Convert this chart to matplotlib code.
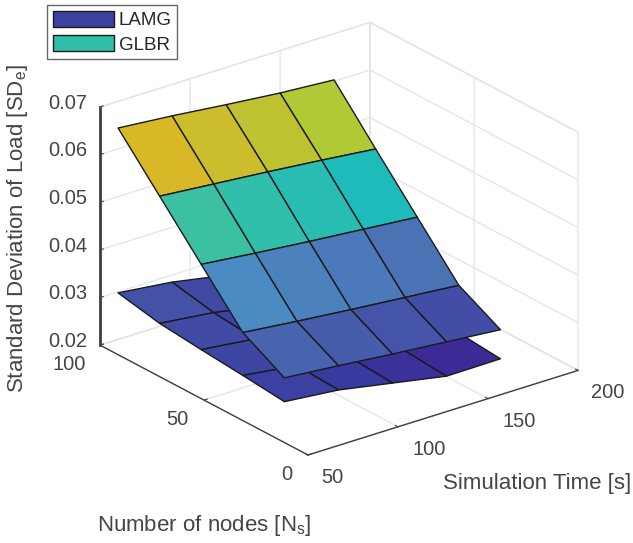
import numpy as np
import matplotlib
matplotlib.use("Agg")
import matplotlib.pyplot as plt
from matplotlib.colors import LinearSegmentedColormap, Normalize
from matplotlib.patches import Patch
from matplotlib.transforms import Affine2D
from mpl_toolkits.mplot3d import proj3d

plt.rcParams['font.family'] = ['Liberation Sans', 'DejaVu Sans']
plt.rcParams['mathtext.default'] = 'regular'

sim_time = [60, 90, 120, 150, 180]
nodes = [20, 40, 60, 80, 100]

lamg = [
    [.0254, .0243, .0222, .0201, .0202],
    [.0263, .0248, .0229, .0208, .0210],
    [.0271, .0258, .0239, .0218, .0219],
    [.0280, .0267, .0247, .0226, .0227],
    [.0298, .0285, .0264, .0243, .0244],
]
glbr = [
    [.0304, .0294, .0283, .0273, .0263],
    [.0353, .0341, .0330, .0320, .0310],
    [.0450, .0438, .0427, .0417, .0407],
    [.0547, .0537, .0527, .0516, .0504],
    [.0644, .0634, .0622, .0611, .0603],
]
x_ticks = [50, 100, 150, 200]
y_ticks = [0, 50, 100]
z_ticks = [.02, .03, .04, .05, .06, .07]
z_labels = ['0.02', '0.03', '0.04', '0.05', '0.06', '0.07']
series_names = ['LAMG', 'GLBR']

W, H = 633, 543
anchors = [(.0200, (62, 42, 150)), (.0243, (55, 58, 158)), (.0270, (65, 75, 165)),
           (.0304, (72, 100, 175)), (.0317, (75, 112, 180)), (.0353, (75, 139, 195)),
           (.0414, (28, 186, 190)), (.0450, (60, 192, 160)), (.0513, (172, 202, 54)),
           (.0547, (217, 184, 40)), (.0700, (217, 184, 40))]
lo, hi = anchors[0][0], anchors[-1][0]
cmap = LinearSegmentedColormap.from_list(
    'p', [((v - lo) / (hi - lo), tuple(c / 255 for c in col)) for v, col in anchors])
norm = Normalize(lo, hi)

fig = plt.figure(figsize=(W / 100, H / 100), dpi=100)
ax = fig.add_axes([0, 0, 1, 1], projection='3d', proj_type='ortho', computed_zorder=False)
ax.view_init(elev=24, azim=-127.6)
ax.set_box_aspect((1, 1, 0.765))
ax.set_xlim(50, 200)
ax.set_ylim(0, 100)
ax.set_zlim(.02, .07)

X, Y = np.meshgrid(sim_time, nodes)
for i, data in enumerate((lamg, glbr)):
    Z = np.array(data)
    ax.plot_surface(X, Y, Z, rstride=1, cstride=1, facecolors=cmap(norm(Z)), shade=False,
                    edgecolor=(.1, .1, .1), linewidth=1.0, antialiased=True, zorder=i + 1)

ax.set_xticks(x_ticks)
ax.set_yticks(y_ticks)
ax.set_zticks(z_ticks)
ax.set_zticklabels(z_labels)
tc = (.27, .27, .27)
ax.tick_params(axis='both', labelsize=14.5, labelcolor=tc, color=tc)
ax.tick_params(axis='x', pad=6)
ax.tick_params(axis='y', pad=6)
ax.tick_params(axis='z', pad=6)
for a in (ax.xaxis, ax.yaxis, ax.zaxis):
    a.set_pane_color((1, 1, 1, 1))
    a.pane.set_edgecolor((.88, .88, .88))
    a._axinfo['grid'].update(color=(.9, .9, .9), linewidth=1.0)
    a._axinfo['tick'].update(inward_factor=0.0, outward_factor=0.15)
    a.line.set_color((.25, .25, .25))
    a.line.set_linewidth(1.0)
ax.zaxis.line.set_linewidth(2.0)


def shift_labels(axis, dxs, dy):
    for tick, dx in zip(axis.get_major_ticks(), dxs):
        tr = Affine2D().translate(dx, dy)
        tick.label1.get_transform = lambda tr=tr: ax.transData + tr


shift_labels(ax.xaxis, [10, 17, 17, 15], 11.5)
shift_labels(ax.yaxis, [-2, -8, -12], 13)
shift_labels(ax.zaxis, [1] * 6, 11.5)


# fit the square axes so that the box corners land where they should
def project(px, py, pz):
    xs, ys, _ = proj3d.proj_transform(px, py, pz, ax.get_proj())
    return ax.transData.transform(np.column_stack([np.atleast_1d(xs), np.atleast_1d(ys)]))


for _ in range(3):
    fig.canvas.draw()
    a_ = project(50, 100, .02)[0]
    b_ = project(200, 0, .02)[0]
    s = (578 - 100) / (b_[0] - a_[0])
    pos = ax.get_position()
    side = pos.width * W * s
    ax.set_position([0, 0, side / W, side / H])
    fig.canvas.draw()
    c_ = project(50, 0, .02)[0]
    pos = ax.get_position()
    ax.set_position([pos.x0 + (308 - c_[0]) / W, pos.y0 + ((H - 455) - c_[1]) / H, pos.width, pos.height])

fig.text(537 / W, 1 - 484 / H, 'Simulation Time [s]', fontsize=16, color=tc, ha='center', va='center')
fig.text(204 / W, 1 - 526 / H, 'Number of nodes [N$_{s}$]', fontsize=16, color=tc, ha='center', va='center')
fig.text(18 / W, 1 - 228 / H, 'Standard Deviation of Load [SD$_{e}$]', fontsize=16, color=tc,
         ha='center', va='center', rotation=90)

handles = [Patch(facecolor=(60 / 255, 65 / 255, 160 / 255), edgecolor=(.1, .1, .1)),
           Patch(facecolor=(48 / 255, 192 / 255, 170 / 255), edgecolor=(.1, .1, .1))]
fig.legend(handles, series_names, loc='upper left', bbox_to_anchor=(47 / W, 1 - 5 / H),
           bbox_transform=fig.transFigure, fontsize=13.5, fancybox=False, framealpha=1,
           edgecolor=(.4, .4, .4), handlelength=3.27, handleheight=1.0, labelspacing=0.28,
           handletextpad=0.25, borderaxespad=0, borderpad=0.3, labelcolor=(.15, .15, .15))

fig.savefig('out.png', dpi=100)
